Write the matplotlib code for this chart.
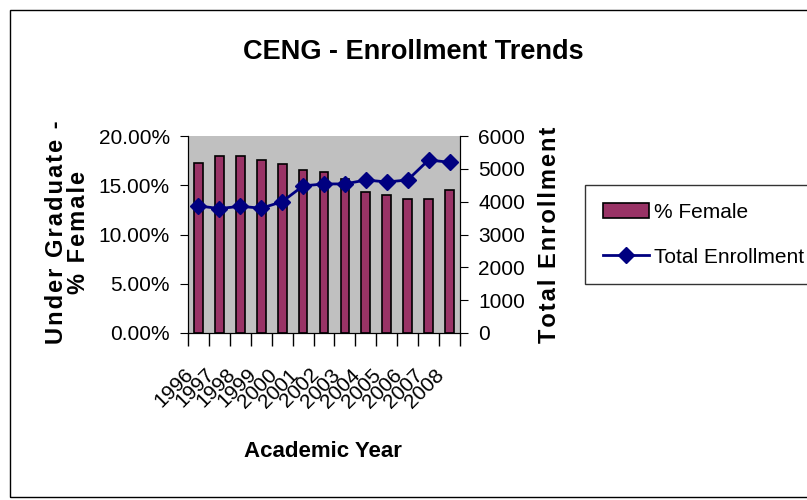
import matplotlib.pyplot as plt
import matplotlib.transforms as mtransforms
import numpy as np
from matplotlib.patches import Rectangle
from matplotlib.ticker import FuncFormatter

years = ['1996', '1997', '1998', '1999', '2000', '2001', '2002',
         '2003', '2004', '2005', '2006', '2007', '2008']
pct_female = [17.3, 18.0, 18.0, 17.6, 17.2, 16.5, 16.3,
              15.6, 14.3, 14.0, 13.6, 13.6, 14.5]
total_enroll = [3870, 3790, 3860, 3800, 4000, 4480, 4540,
                4540, 4660, 4600, 4660, 5270, 5200]

plt.rcParams['font.family'] = ['Liberation Sans', 'DejaVu Sans']

HS = '\u200a'


def spaced(s, sep=HS):
    return sep.join(s)


fig = plt.figure(figsize=(8.07, 5.0), dpi=100)
fig.patches.append(Rectangle((0.012, 0.006), 0.99, 0.974, transform=fig.transFigure,
                             fill=False, edgecolor='black', linewidth=1))

ax1 = fig.add_axes([0.233, 0.334, 0.337, 0.394])
ax1.set_facecolor('#C0C0C0')
x = np.arange(len(years))
ax1.bar(x, pct_female, width=0.42, color='#993366', edgecolor='black',
        linewidth=1.2, label='% Female', zorder=2)
ax1.set_ylim(0, 20)
ax1.set_xlim(-0.5, len(years) - 0.5)
ax1.set_yticks([0, 5, 10, 15, 20])
ax1.yaxis.set_major_formatter(FuncFormatter(lambda v, p: '%.2f%%' % v))
ax1.set_xticks(x)
ax1.set_xticklabels(years, rotation=45, ha='right', rotation_mode='anchor')
ax1.set_xticks(np.arange(-0.5, len(years)), minor=True)
ax1.tick_params(axis='x', which='major', length=0, labelsize=15, pad=23)
ax1.tick_params(axis='x', which='minor', length=9, width=1)
ax1.tick_params(axis='y', labelsize=15, length=6, pad=7)
shift = mtransforms.ScaledTranslation(-0.15, 0, fig.dpi_scale_trans)
for lab in ax1.get_xticklabels():
    lab.set_transform(lab.get_transform() + shift)
ax1.spines['top'].set_visible(False)
ax1.set_ylabel(spaced('Under Graduate -') + '\n' + spaced('% Female'),
               fontsize=17, fontweight='bold', linespacing=0.95)
ax1.yaxis.set_label_coords(-0.36, 0.51)
ax1.set_xlabel('Academic Year', fontsize=16, fontweight='bold')
ax1.xaxis.set_label_coords(0.496, -0.55)

ax2 = ax1.twinx()
ax2.plot(x, total_enroll, color='#000080', marker='D', markersize=8,
         linewidth=2, label='Total Enrollment', zorder=3)
ax2.set_ylim(0, 6000)
ax2.set_yticks(range(0, 6001, 1000))
ax2.tick_params(axis='y', labelsize=15, length=6, pad=7)
ax2.spines['top'].set_visible(False)
ax2.set_ylabel(spaced('Total Enrollment'), fontsize=17, fontweight='bold')
ax2.yaxis.set_label_coords(1.287, 0.497)

fig.text(0.512, 0.896, 'CENG - Enrollment Trends', ha='center', va='center',
         fontsize=19.5, fontweight='bold')

h1, l1 = ax1.get_legend_handles_labels()
h2, l2 = ax2.get_legend_handles_labels()
leg = fig.legend(h1 + h2, l1 + l2, loc='upper left', bbox_to_anchor=(0.725, 0.63),
                 fontsize=15, frameon=True, fancybox=False, edgecolor='black',
                 handlelength=2.2, handletextpad=0.25, borderpad=0.85,
                 labelspacing=1.25, borderaxespad=0)
leg.get_frame().set_linewidth(1)

fig.savefig('out.png', dpi=100)
